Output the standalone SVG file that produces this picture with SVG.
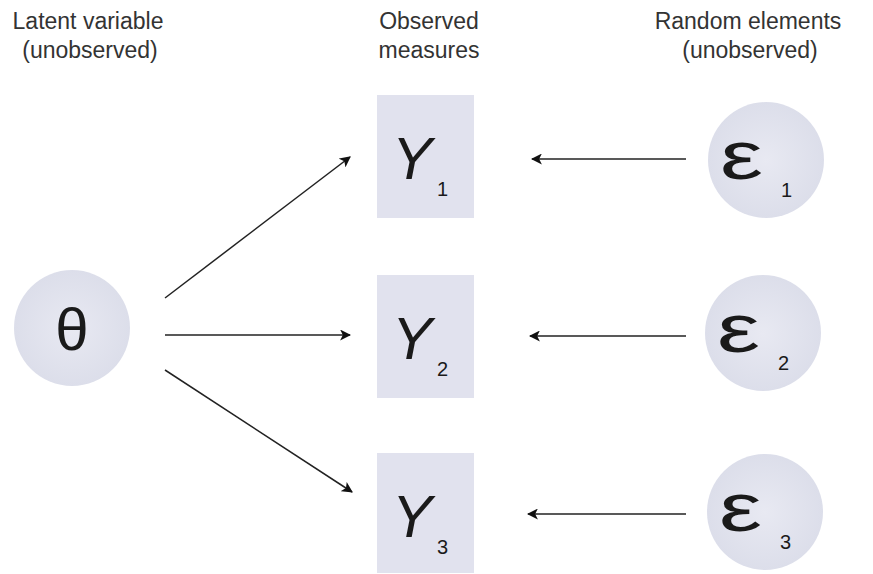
<svg xmlns="http://www.w3.org/2000/svg" width="873" height="574" viewBox="0 0 873 574">
  <style>
    .hdr { font-family: "Liberation Sans", Arial, sans-serif; font-size: 23px; fill: #333; text-anchor: middle; }
    .box { fill: #e1e2ee; }
    .circ { fill: url(#cg); }
    .sym { font-family: "Liberation Sans", Arial, sans-serif; fill: #1a1a1a; }
    .ysym { font-size: 60px; font-style: italic; }
    .theta { font-size: 60px; }
    .eps { font-size: 68px; }
    .sub { font-size: 20px; }
    .edge { stroke: #222; stroke-width: 1.5; fill: none; marker-end: url(#arr); }
  </style>
  <defs>
    <radialGradient id="cg" cx="0.5" cy="0.5" r="0.5">
      <stop offset="0" stop-color="#e8e9f2"/>
      <stop offset="1" stop-color="#dcdeea"/>
    </radialGradient>
    <marker id="arr" viewBox="0 0 10 10" refX="9" refY="5" markerWidth="11" markerHeight="11" markerUnits="userSpaceOnUse" orient="auto">
      <path d="M0,0 L10,5 L0,10 L2.5,5 Z" fill="#111"/>
    </marker>
  </defs>
  <rect width="873" height="574" fill="#ffffff"/>

  <!-- column headings -->
  <g id="headings">
    <text class="hdr" x="88" y="29">Latent variable</text>
    <text class="hdr" x="90" y="58">(unobserved)</text>
    <text class="hdr" x="429" y="29">Observed</text>
    <text class="hdr" x="429" y="58">measures</text>
    <text class="hdr" x="748" y="29">Random elements</text>
    <text class="hdr" x="750" y="58">(unobserved)</text>
  </g>

  <!-- latent variable -->
  <g id="theta">
    <circle class="circ" cx="72" cy="328" r="58"/>
    <text class="sym theta" x="72" y="350" text-anchor="middle">θ</text>
  </g>

  <!-- observed measures -->
  <g id="y1">
    <rect class="box" x="377" y="95" width="97" height="123"/>
    <text class="sym ysym" x="392" y="179">Y</text>
    <text class="sym sub" x="437" y="196">1</text>
  </g>
  <g id="y2">
    <rect class="box" x="377" y="275" width="97" height="123"/>
    <text class="sym ysym" x="392" y="359">Y</text>
    <text class="sym sub" x="437" y="376">2</text>
  </g>
  <g id="y3">
    <rect class="box" x="377" y="453" width="97" height="120"/>
    <text class="sym ysym" x="392" y="537">Y</text>
    <text class="sym sub" x="437" y="554">3</text>
  </g>

  <!-- random elements -->
  <g id="e1">
    <circle class="circ" cx="766" cy="160" r="58"/>
    <text class="sym eps" transform="translate(720 179) scale(1.42 1)">ε</text>
    <text class="sym sub" x="781" y="197">1</text>
  </g>
  <g id="e2">
    <circle class="circ" cx="763" cy="333" r="58"/>
    <text class="sym eps" transform="translate(717 352) scale(1.42 1)">ε</text>
    <text class="sym sub" x="778" y="370">2</text>
  </g>
  <g id="e3">
    <circle class="circ" cx="765" cy="512" r="58"/>
    <text class="sym eps" transform="translate(719 531) scale(1.42 1)">ε</text>
    <text class="sym sub" x="780" y="549">3</text>
  </g>

  <!-- connectors -->
  <g id="connectors">
    <line class="edge" x1="165" y1="298" x2="350" y2="157"/>
    <line class="edge" x1="165" y1="335" x2="350" y2="335"/>
    <line class="edge" x1="165" y1="370" x2="352" y2="492"/>
    <line class="edge" x1="686" y1="159" x2="532" y2="159"/>
    <line class="edge" x1="686" y1="336" x2="530" y2="336"/>
    <line class="edge" x1="686" y1="514" x2="528" y2="514"/>
  </g>
</svg>
